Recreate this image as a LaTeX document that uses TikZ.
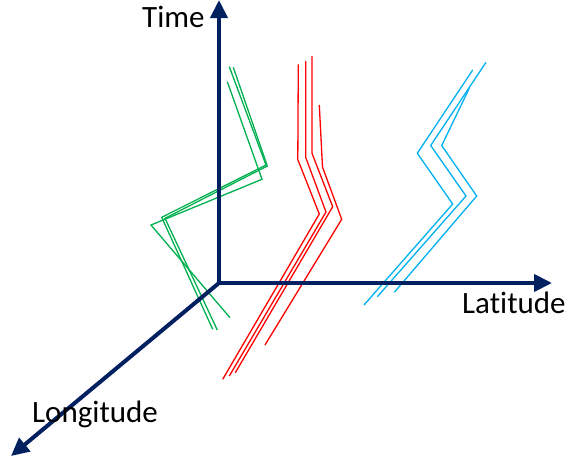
\documentclass[tikz,border=0pt]{standalone}
\usepackage{fontspec}
\setmainfont{Carlito}[Ligatures={NoCommon}]
\usetikzlibrary{arrows.meta}
\definecolor{navy}{HTML}{002060}
\definecolor{ogreen}{HTML}{00B050}
\definecolor{ored}{HTML}{FF0000}
\definecolor{oblue}{HTML}{00B0F0}
\tikzset{
  axis/.style={draw=navy, line width=4pt, -{Triangle[length=18pt,width=17pt]}},
  lbl/.style={anchor=base west, inner sep=0pt, font=\fontsize{31}{36}\selectfont},
  trackg/.style={draw=ogreen, line width=1.3pt, line join=miter},
  trackr/.style={draw=ored, line width=1.3pt},
  trackb/.style={draw=oblue, line width=1.3pt},
}
\begin{document}
\begin{tikzpicture}[x=1pt,y=-1pt]
\useasboundingbox (0,0) rectangle (568,464);
% green tracks
\draw[trackg] (229.3,66.7) -- (266,165) -- (161.7,217.3) -- (212.7,329.3);
\draw[trackg] (233.3,67.3) -- (267.3,166) -- (165,218.3) -- (217.3,330);
\draw[trackg] (227.3,81.7) -- (262,179.3) -- (151,225) -- (230,317.7);
% red tracks
\draw[trackr] (298.3,64.3) -- (297.8,159.5) -- (319.3,214) -- (222.7,379.3);
\draw[trackr] (305.7,61) -- (305.7,157.3) -- (326,212) -- (229.3,376);
\draw[trackr] (312,56) -- (312,153.3) -- (332.7,206.7) -- (235.3,372.7);
\draw[trackr] (319.3,105) -- (322.5,167) -- (341.7,219.3) -- (265,345);
% blue tracks
\draw[trackb] (472.7,70) -- (417.3,153.3) -- (452.7,204) -- (364,305);
\draw[trackb] (486,62.3) -- (430.7,145.5) -- (466,196) -- (377.3,296.7);
\draw[trackb] (469.3,88.3) -- (441.7,145.5) -- (476.7,196) -- (394.3,292.3);
% axes
\coordinate (O) at (219,283);
\coordinate (T) at (219,0);
\coordinate (La) at (552,283);
\coordinate (Lo) at (11,456);
\draw[axis] (O) -- (T);
\draw[axis] (O) -- (La);
\draw[axis] (O) -- (Lo);
% labels
\node[lbl] (time) at (142,27) {Time};
\node[lbl] (lat) at (462,313) {Latitude};
\node[lbl] (lon) at (32,422) {Longitude};
\end{tikzpicture}
\end{document}
